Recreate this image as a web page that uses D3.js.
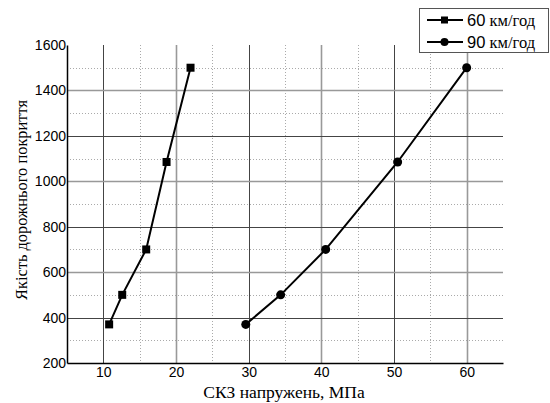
<!DOCTYPE html>
<html>
<head>
<meta charset="utf-8">
<script src="https://cdn.jsdelivr.net/npm/d3@7"></script>
<style>
  body { margin: 0; background: #fff; }
  svg { display: block; }
</style>
</head>
<body>
<svg id="chart" width="550" height="403"></svg>
<script>
// data
const stress60 = [10.8, 12.6, 15.9, 18.7, 22.0];
const quality60 = [370, 500, 700, 1085, 1500];
const stress90 = [29.6, 34.4, 40.6, 50.5, 60.0];
const quality90 = [370, 500, 700, 1085, 1500];
const xTicks = [10, 20, 30, 40, 50, 60];
const yTicks = [200, 400, 600, 800, 1000, 1200, 1400, 1600];
const xMinor = [15, 25, 35, 45, 55];
const yMinor = [300, 500, 700, 900, 1100, 1300, 1500];
const seriesNames = ['60', '90'];

const svg = d3.select('#chart');
const margin = { top: 45, right: 47, bottom: 40, left: 67 };
const width = 550 - margin.left - margin.right;
const height = 403 - margin.top - margin.bottom;

const x = d3.scaleLinear().domain([5, 65]).range([margin.left, margin.left + width]);
const y = d3.scaleLinear().domain([200, 1600]).range([margin.top + height, margin.top]);

// minor dotted grid
const grid = svg.append('g').attr('class', 'grid');
grid.selectAll('line.vminor')
  .data(xMinor)
  .enter()
  .append('line')
  .attr('x1', d => Math.round(x(d)) + 0.5)
  .attr('x2', d => Math.round(x(d)) + 0.5)
  .attr('y1', y(1600))
  .attr('y2', y(200))
  .attr('stroke', '#aaa')
  .attr('stroke-dasharray', '1,2');
grid.selectAll('line.hminor')
  .data(yMinor)
  .enter()
  .append('line')
  .attr('y1', d => Math.round(y(d)) + 0.5)
  .attr('y2', d => Math.round(y(d)) + 0.5)
  .attr('x1', x(5))
  .attr('x2', x(65))
  .attr('stroke', '#aaa')
  .attr('stroke-dasharray', '1,2');

// major solid grid (alternate lines look softer in the original)
grid.selectAll('line.vmajor')
  .data(xTicks)
  .enter()
  .append('line')
  .attr('x1', d => Math.round(x(d)) + 0.5)
  .attr('x2', d => Math.round(x(d)) + 0.5)
  .attr('y1', y(1600))
  .attr('y2', y(200))
  .attr('stroke', (d, i) => (i % 2 ? '#999' : '#444'))
  .attr('stroke-width', (d, i) => (i % 2 ? 1.6 : 1));
grid.selectAll('line.hmajor')
  .data(yTicks.slice(1, -1))
  .enter()
  .append('line')
  .attr('y1', d => Math.round(y(d)) + 0.5)
  .attr('y2', d => Math.round(y(d)) + 0.5)
  .attr('x1', x(5))
  .attr('x2', x(65))
  .attr('stroke', (d, i) => (i % 2 ? '#999' : '#444'))
  .attr('stroke-width', (d, i) => (i % 2 ? 1.6 : 1));

// axes
const xAxis = svg.append('g')
  .attr('transform', `translate(0,${y(200)})`)
  .call(d3.axisBottom(x).tickValues(xTicks).tickFormat(d3.format('d')).tickSize(0).tickPadding(4));
const yAxis = svg.append('g')
  .attr('transform', `translate(${x(5)},0)`)
  .call(d3.axisLeft(y).tickValues(yTicks).tickFormat(d3.format('d')).tickSize(0).tickPadding(1));

[xAxis, yAxis].forEach((ax) => {
  ax.select('.domain').attr('stroke', '#000').attr('stroke-width', 1.5);
  ax.selectAll('text')
    .attr('font-family', 'Liberation Sans, Arial, sans-serif')
    .attr('font-size', 14)
    .attr('fill', '#000');
});

// series
const line = d3.line().x(d => x(d[0])).y(d => y(d[1]));
const pts60 = stress60.map((s, i) => [s, quality60[i]]);
const pts90 = stress90.map((s, i) => [s, quality90[i]]);

[pts60, pts90].forEach((pts) => {
  svg.append('path')
    .datum(pts)
    .attr('d', line)
    .attr('fill', 'none')
    .attr('stroke', '#000')
    .attr('stroke-width', 2);
});

svg.append('g').selectAll('rect')
  .data(pts60)
  .enter()
  .append('rect')
  .attr('x', d => x(d[0]) - 4)
  .attr('y', d => y(d[1]) - 4)
  .attr('width', 8)
  .attr('height', 8)
  .attr('fill', '#000');

svg.append('g').selectAll('circle')
  .data(pts90)
  .enter()
  .append('circle')
  .attr('cx', d => x(d[0]))
  .attr('cy', d => y(d[1]))
  .attr('r', 4.5)
  .attr('fill', '#000');

// axis titles
svg.append('text')
  .attr('x', 284)
  .attr('y', 398)
  .attr('text-anchor', 'middle')
  .attr('font-family', 'Liberation Serif, Times New Roman, serif')
  .attr('font-size', 17.5)
  .text('СКЗ напружень, МПа');

// the original title is a taller, narrower serif: squeeze to the measured length
svg.append('text')
  .attr('transform', 'translate(27,200) rotate(-90)')
  .attr('text-anchor', 'middle')
  .attr('font-family', 'Liberation Serif, Times New Roman, serif')
  .attr('font-size', 17.5)
  .attr('textLength', 200)
  .attr('lengthAdjust', 'spacingAndGlyphs')
  .text('Якість дорожнього покриття');

// legend
const legend = svg.append('g');
legend.append('rect')
  .attr('x', 419.5)
  .attr('y', 8.5)
  .attr('width', 129)
  .attr('height', 44)
  .attr('fill', '#fff')
  .attr('stroke', '#555');

seriesNames.forEach((name, i) => {
  const ly = 20 + i * 22;
  legend.append('line')
    .attr('x1', 427).attr('x2', 463)
    .attr('y1', ly).attr('y2', ly)
    .attr('stroke', '#000').attr('stroke-width', 2);
  if (i === 0) {
    legend.append('rect').attr('x', 441).attr('y', ly - 3.5).attr('width', 7).attr('height', 7).attr('fill', '#000');
  } else {
    legend.append('circle').attr('cx', 444.5).attr('cy', ly).attr('r', 4).attr('fill', '#000');
  }
  const t = legend.append('text')
    .attr('x', 467)
    .attr('y', ly + 5.5)
    .attr('font-size', 16.5);
  t.append('tspan').attr('font-family', 'Liberation Sans, Arial, sans-serif').text(name);
  t.append('tspan').attr('font-family', 'Liberation Serif, Times New Roman, serif').text(' км/год');
});
</script>
</body>
</html>
